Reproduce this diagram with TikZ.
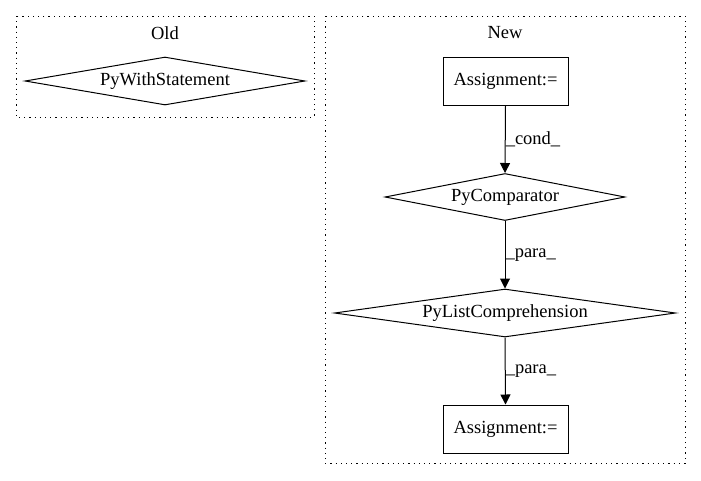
\documentclass[tikz,border=0pt]{standalone}
\usepackage{fontspec}
\setmainfont{Liberation Serif}
\usetikzlibrary{shapes.geometric,arrows.meta}
\begin{document}
\begin{tikzpicture}[x=1pt,y=-1pt]
\tikzset{
  lbl/.style={font=\fontsize{18.5}{20}\selectfont},
  cluster/.style={draw,line width=1pt,dash pattern=on 1.2pt off 4pt},
  boxnode/.style={lbl,draw,line width=1pt,rectangle,minimum width=125pt,minimum height=48pt,inner sep=0pt},
  dia/.style={lbl,draw,line width=1pt,diamond,inner sep=0pt},
  conn/.style={line width=1pt,-{Triangle[length=10pt,width=10pt]}},
  elabel/.style={lbl,anchor=west,inner sep=0pt}}
\useasboundingbox (0,0) rectangle (701,480);
\draw[cluster] (16,16) rectangle (314,117);
\draw[cluster] (325,16) rectangle (685,463);
\node[lbl] (oldt) at (165,33) {Old};
\node[lbl] (newt) at (505,33) {New};
\node[dia,aspect=5.83,minimum width=280pt,minimum height=48pt] (pws) at (165,81) {PyWithStatement};
\node[boxnode] (a1) at (505.5,81) {Assignment:=};
\node[dia,aspect=5.1,minimum width=240pt,minimum height=47pt] (pc) at (505,197) {PyComparator};
\node[dia,aspect=7.1,minimum width=341pt,minimum height=48pt] (plc) at (505,313) {PyListComprehension};
\node[boxnode] (a2) at (505.5,429) {Assignment:=};
\draw[conn] (a1.south) -- (pc.north) node[elabel,pos=0.5] (l1) {\_cond\_};
\draw[conn] (pc.south) -- (plc.north) node[elabel,pos=0.5] (l2) {\_para\_};
\draw[conn] (plc.south) -- (a2.north) node[elabel,pos=0.5] (l3) {\_para\_};
\end{tikzpicture}
\end{document}
